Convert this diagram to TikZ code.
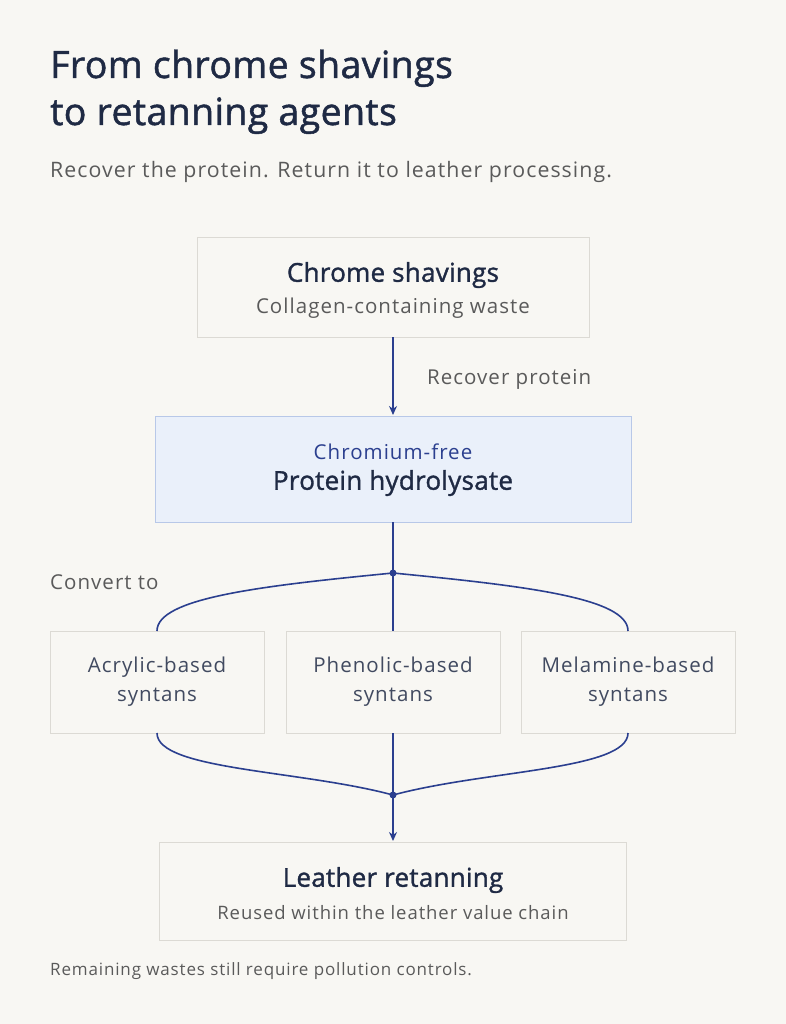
\documentclass[tikz,border=0pt]{standalone}
\usepackage{fontspec}
\setmainfont{Open Sans}[LetterSpace=5]
\newfontfamily\headfont{Open Sans}[FakeBold=1.3, LetterSpace=1]
\usetikzlibrary{arrows.meta}
\definecolor{bgc}{HTML}{F8F7F3}
\definecolor{ink}{HTML}{1F2A44}
\definecolor{grey}{HTML}{5A5A5A}
\definecolor{edge}{HTML}{DCDAD4}
\definecolor{flow}{HTML}{2B3F8F}
\definecolor{hyfill}{HTML}{EAF0FA}
\definecolor{hyedge}{HTML}{B8C8E8}
\tikzset{
  box/.style={draw=edge, line width=1pt, fill=bgc, inner sep=0pt},
  head/.style={text=ink, font=\headfont\fontsize{26}{30}\selectfont},
  sub/.style={text=grey, font=\fontsize{20.5}{25}\selectfont},
  flowline/.style={draw=flow, line width=1.6pt},
  arr/.style={flowline, -{Stealth[length=9pt,width=8pt]}}
}
\begin{document}
\begin{tikzpicture}[x=1pt,y=-1pt]
  \fill[bgc] (0,0) rectangle (786,1024);
  \useasboundingbox (0,0) rectangle (786,1024);
  % title
  \node[anchor=base west, inner sep=0pt, text=ink, font=\headfont\fontsize{37.5}{44}\selectfont] (t1) at (50,78) {From chrome shavings};
  \node[anchor=base west, inner sep=0pt, text=ink, font=\headfont\fontsize{37.5}{44}\selectfont] (t2) at (50,125) {to retanning agents};
  \node[anchor=base west, inner sep=0pt, sub, font=\fontsize{21.3}{25}\selectfont] (st) at (50,178) {Recover the protein. Return it to leather processing.};
  % boxes
  \draw[box] (197,237) rectangle (589,337);
  \node[head] (shav) at (393,275) {Chrome shavings};
  \node[sub] (shavs) at (393,308) {Collagen-containing waste};
  \coordinate (shavb) at (393,337);
  \draw[line width=1pt, draw=hyedge, fill=hyfill] (155,416) rectangle (631,522);
  \node[text=flow, font=\fontsize{20.5}{25}\selectfont] (cf) at (393,452) {Chromium-free};
  \node[head] (hyd) at (393,483) {Protein hydrolysate};
  \coordinate (hydt) at (393,415);
  \coordinate (hydb) at (393,522);
  \node[anchor=base west, inner sep=0pt, sub] (lbl) at (427,384) {Recover protein};
  \node[anchor=base west, inner sep=0pt, sub] (cv) at (50,589) {Convert to};
  \foreach \n/\x/\a/\b in {acr/157/Acrylic-based/syntans, phe/393/Phenolic-based/syntans, mel/628/Melamine-based/syntans}{
    \draw[box] (\x-107,631) rectangle (\x+107,733);
    \node[sub, text=ink!85, align=center, font=\fontsize{20.5}{29}\selectfont] (\n) at (\x,682) {\a\\\b};
    \coordinate (\n t) at (\x,631);
    \coordinate (\n b) at (\x,733);
  }
  \draw[box] (159,842) rectangle (626,940);
  \node[head] (ret) at (393,880) {Leather retanning};
  \node[sub, font=\fontsize{18.5}{22}\selectfont] (rets) at (393,913) {Reused within the leather value chain};
  \coordinate (rett) at (393,841);
  \node[anchor=base west, inner sep=0pt, sub, font=\fontsize{17}{20}\selectfont] (fn) at (50,975) {Remaining wastes still require pollution controls.};
  % flow
  \draw[arr] (shavb) -- (hydt);
  \node[circle, fill=flow, inner sep=0pt, minimum size=7pt] (split) at (393,573) {};
  \node[circle, fill=flow, inner sep=0pt, minimum size=7pt] (join) at (393,795) {};
  \draw[flowline] (hydb) -- (split.center) -- (phet);
  \draw[flowline] (split.center) .. controls (260,586) and (157,598) .. (acrt);
  \draw[flowline] (split.center) .. controls (526,586) and (628,598) .. (melt);
  \draw[flowline] (pheb) -- (join.center);
  \draw[flowline] (acrb) .. controls (157,770) and (300,770) .. (join.center);
  \draw[flowline] (melb) .. controls (628,770) and (486,770) .. (join.center);
  \draw[arr] (join.center) -- (rett);
\end{tikzpicture}
\end{document}
